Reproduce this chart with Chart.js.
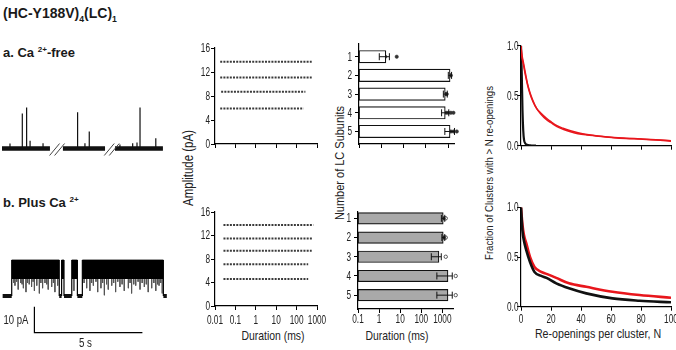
<!DOCTYPE html>
<html><head><meta charset="utf-8">
<script src="https://cdn.jsdelivr.net/npm/chart.js@4.4.0/dist/chart.umd.min.js"></script>
<style>
html,body{margin:0;padding:0;background:#fff;overflow:hidden;width:676px;height:350px;position:relative;}
.t{position:absolute;font-family:'Liberation Sans',Arial,sans-serif;color:#222;white-space:nowrap;line-height:1;}
.b{font-weight:bold;color:#1a1a1a;}
.rot{transform:translate(-50%,-50%) rotate(-90deg) scaleX(0.82);}
.ctr{transform:translate(-50%,-50%) scaleX(0.82);}
sup,sub{font-size:62%;line-height:0;}
</style></head><body>

<div class="t b" style="left:3px;top:6px;font-size:14px;">(HC-Y188V)<sub>4</sub>(LC)<sub>1</sub></div>
<div class="t b" style="left:3px;top:46px;font-size:13px;">a. Ca <sup>2+</sup>-free</div>
<div class="t b" style="left:3px;top:196px;font-size:13px;">b. Plus Ca <sup>2+</sup></div>
<div class="t rot" style="left:188px;top:168px;font-size:14px;">Amplitude (pA)</div>
<div class="t rot" style="left:340px;top:163px;font-size:13.4px;">Number of LC Subunits</div>
<div class="t rot" style="left:489px;top:173px;font-size:11.7px;">Fraction of Clusters with &gt; N re-openings</div>
<div class="t ctr" style="left:273px;top:336px;font-size:12.7px;">Duration (ms)</div>
<div class="t ctr" style="left:397px;top:336px;font-size:12.7px;">Duration (ms)</div>
<div class="t ctr" style="left:598px;top:333px;font-size:13px;">Re-openings per cluster, N</div>

<script>
// ================= DATA =================
// Single-channel traces (time in s, current in pA)
const traceA_segments = [[0, 2.22], [2.82, 4.77], [5.23, 7.45]];
const traceA_spikeTimes = [0.37, 0.94, 1.14, 1.30, 1.90, 3.50, 3.84, 4.04, 5.46, 6.05, 6.25, 6.39, 7.12];
const traceA_spikeAmps  = [1.9, 13.5, 15.8, 3.0, 2.0, 13.9, 2.0, 6.5, 1.5, 2.0, 2.3, 15.8, 3.9];
const traceA_breaks = [2.55, 5.08];

const traceB_start = 0.03, traceB_end = 7.63;
const traceB_openings = [[0.45, 2.65], [2.76, 2.87], [3.23, 3.49], [3.72, 7.47]];
const traceB_openLevel = 13.8;
const traceB_noiseFloor = 6.5;
const traceB_flickerTimes = [0.55, 0.60, 0.68, 0.75, 0.87, 0.93, 0.99, 1.11, 1.18, 1.26, 1.37, 1.44, 1.50, 1.61, 1.73, 1.80, 1.88, 1.99, 2.07, 2.14, 2.30, 2.38, 2.45, 2.58,
  3.33,
  3.80, 3.92, 4.07, 4.15, 4.23, 4.35, 4.43, 4.58, 4.66, 4.74, 4.84, 4.92, 5.08, 5.17, 5.26, 5.36, 5.46, 5.56, 5.66, 5.85, 5.93, 6.00, 6.10, 6.19, 6.30, 6.39, 6.49, 6.59, 6.68, 6.77, 6.93, 7.03, 7.12, 7.20, 7.27, 7.35, 7.42];
const traceB_flickerAmps = [5, 4, 5.5, 2.5, 5, 4.5, 3, 1.5, 5, 4.5, 3.5, 5.5, 2, 4, 1, 5, 3, 5, 4.5, 2.5, 3.5, 5, 1.5, 4,
  2,
  5, 3, 2, 5, 4, 5.5, 1.5, 3, 5, 0.3, 4.5, 2.5, 4, 5, 1.5, 5.5, 3.5, 4.5, 2, 3, 5, 1, 4.5, 4, 5.5, 2.5, 5, 3.5, 4.5, 1.5, 3, 5, 2, 4.5, 4, 5, 1];
const scaleBar_pA = 10, scaleBar_s = 5;

// Amplitude vs duration (pA levels and duration ranges, ms)
const ampA_levels = [16.2, 13.7, 11.1, 8.7, 5.9];
const ampA_durMin = [0.045, 0.018, 0.018, 0.02, 0.018];
const ampA_durMax = [0.17, 550, 550, 270, 220];
const ampB_levels = [13.8, 11.5, 9.4, 7.1, 4.6];
const ampB_durMin = [0.026, 0.026, 0.026, 0.026, 0.026];
const ampB_durMax = [660, 620, 550, 370, 370];
const ampTicks = [0, 4, 8, 12, 16];
const durTicksScatter = [0.01, 0.1, 1, 10, 100, 1000];

// Cluster duration by number of LC subunits (ms)
const lcSubunits = [1, 2, 3, 4, 5];
const durTicksBar = [0.1, 1, 10, 100, 1000];
const durA_mean = [1.6, 1200, 730, 730, 1200];
const durA_errLo = [0.81, 1000, 600, 500, 700];
const durA_errHi = [2.3, 1400, 900, 1050, 1900];
const durA_points = [[0.37, 0.45, 0.52, 0.7, 1.0, 1.5, 4.9], [520, 650, 800, 1000, 1100, 1200, 1300],
  [300, 420, 560, 700, 800, 850], [290, 330, 600, 800, 1000, 1300, 1700], [240, 520, 800, 1000, 1300, 1700, 2400]];
const durB_mean = [1100, 1100, 690, 1850, 1850];
const durB_errLo = [900, 950, 300, 550, 550];
const durB_errHi = [1300, 1300, 890, 2950, 2950];
const durB_points = [[410, 550, 700, 850, 1000, 1150], [580, 750, 900, 1050, 1200], [235, 280], [550], [550]];
const durB_openPoints = [[1300, 1450], [1350, 1450], [1450], [4300], [4300]];

// Survival of re-openings
const reopenA_N = [0, 0.5, 1.5, 3, 4.5, 6, 8, 10.5, 13, 17, 20, 24, 28, 33, 38, 44, 50, 62, 70, 80, 90, 100];
const fracA_red1 = [1.0, 0.92, 0.84, 0.72, 0.61, 0.53, 0.45, 0.37, 0.32, 0.26, 0.23, 0.19, 0.165, 0.14, 0.12, 0.107, 0.098, 0.08, 0.072, 0.066, 0.058, 0.045];
const fracA_red2 = [1.0, 0.90, 0.82, 0.70, 0.60, 0.52, 0.44, 0.37, 0.33, 0.275, 0.24, 0.20, 0.175, 0.15, 0.13, 0.112, 0.10, 0.082, 0.075, 0.068, 0.06, 0.05];
const reopenA_Nblack = [0, 0.5, 1, 1.5, 2, 3, 4, 6, 10];
const fracA_black = [1.0, 0.72, 0.35, 0.15, 0.06, 0.02, 0.01, 0.004, 0];
const reopenB_N = [0, 1, 2, 3.5, 6, 9, 13.5, 17, 23.5, 32, 43.5, 61, 79, 100];
const fracB_red = [1.0, 0.82, 0.72, 0.64, 0.50, 0.40, 0.35, 0.33, 0.29, 0.235, 0.20, 0.15, 0.117, 0.09];
const fracB_black = [1.0, 0.76, 0.66, 0.57, 0.45, 0.35, 0.31, 0.29, 0.235, 0.185, 0.134, 0.084, 0.06, 0.044];
const reopenTicks = [0, 20, 40, 60, 80, 100];
const fracTicks = [0, 0.5, 1.0];

// ================= SETUP =================
const FONT = "'Liberation Sans',Arial,sans-serif";
const LBL_SIZE = 12.5, LBL_SX = 0.66;
Chart.defaults.font.family = FONT;
Chart.defaults.font.size = 11;
Chart.defaults.color = '#222';
Chart.defaults.animation = false;
Chart.defaults.responsive = false;
Chart.defaults.maintainAspectRatio = false;
Chart.defaults.events = [];
Chart.defaults.plugins.legend.display = false;
Chart.defaults.plugins.tooltip.enabled = false;

function condText(ctx, txt, x, y, size, sx, align, base) {
  ctx.save(); ctx.font = size + 'px ' + FONT; ctx.textAlign = align; ctx.textBaseline = base;
  ctx.translate(x, y); ctx.scale(sx, 1); ctx.fillText(txt, 0, 0); ctx.restore();
}
// condensed tick labels drawn from each scale's own ticks
Chart.register({
  id: 'cond',
  afterDraw(chart, args, opts) {
    if (!opts || !opts.on) return;
    const ctx = chart.ctx; ctx.save(); ctx.fillStyle = '#222';
    const xs = chart.scales.x, ys = chart.scales.y;
    if (opts.xoff !== undefined) xs.ticks.forEach(t => {
      const v = t.value;
      condText(ctx, opts.xdig !== undefined ? v.toFixed(opts.xdig) : String(v), xs.getPixelForValue(v), xs.top + opts.xoff, LBL_SIZE, LBL_SX, 'center', 'top');
    });
    if (opts.yoff !== undefined) ys.ticks.forEach(t => {
      const v = t.value;
      condText(ctx, opts.ydig !== undefined ? v.toFixed(opts.ydig) : String(v), ys.right - opts.yoff, ys.getPixelForValue(v) + 0.5, LBL_SIZE, LBL_SX, 'right', 'middle');
    });
    ctx.restore();
  }
});

function mk(left, top, w, h, config) {
  const c = document.createElement('canvas');
  c.width = w; c.height = h;
  c.style.cssText = `position:absolute;left:${left}px;top:${top}px;width:${w}px;height:${h}px`;
  document.body.appendChild(c);
  return new Chart(c, config);
}
function ax(extra) {
  return Object.assign({
    offset: false,
    border: { display: true, color: '#000', width: 1.2 },
    grid: { display: true, offset: false, drawOnChartArea: false, drawTicks: true, tickLength: 4, color: '#000', lineWidth: 1 },
    ticks: { display: false }
  }, extra);
}
const fixTicks = arr => (s => { s.ticks = arr.map(v => ({ value: v })); });
const fitW = w => (s => { s.width = w; });
const fitH = h => (s => { s.height = h; });
const pts = (xs, ys) => xs.map((x, i) => ({ x, y: ys[i] }));

// ================= TRACES =================
const PXS = 21.6, PXPA = 2.6;
function traceScales(w, h, x0px, y0px) {
  return {
    x: { type: 'linear', display: false, min: -x0px / PXS, max: (w - x0px) / PXS },
    y: { type: 'linear', display: false, min: -(h - y0px) / PXPA, max: y0px / PXPA }
  };
}
// Trace a
const baseA = [], spikeA = [];
traceA_segments.forEach(([s, e]) => baseA.push({ x: s, y: 0 }, { x: e, y: 0 }, { x: e, y: null }));
traceA_spikeTimes.forEach((t, i) => spikeA.push({ x: t, y: 0 }, { x: t, y: traceA_spikeAmps[i] }, { x: t, y: null }));
const breakPlugin = {
  id: 'breaks',
  afterDatasetsDraw(chart) {
    const xs = chart.scales.x, ys = chart.scales.y, ctx = chart.ctx;
    const y0 = ys.getPixelForValue(0);
    ctx.save(); ctx.strokeStyle = '#444'; ctx.lineWidth = 1;
    traceA_breaks.forEach(t => {
      const px = xs.getPixelForValue(t);
      [-2.5, 2.5].forEach(o => { ctx.beginPath(); ctx.moveTo(px + o - 5, y0 + 7); ctx.lineTo(px + o + 5, y0 - 5); ctx.stroke(); });
    });
    ctx.restore();
  }
};
mk(0, 95, 172, 65, {
  type: 'line',
  data: { datasets: [
    { data: baseA, borderColor: '#111', borderWidth: 4.5, pointRadius: 0, spanGaps: false },
    { data: spikeA, borderColor: '#111', borderWidth: 1.2, pointRadius: 0, spanGaps: false }
  ] },
  options: { layout: { padding: 0 }, scales: traceScales(172, 65, 2, 53.5) },
  plugins: [breakPlugin]
});

// Trace b
const closedB = [];
let cur = traceB_start;
traceB_openings.forEach(([s, e]) => { closedB.push({ x: cur, y: 0 }, { x: s, y: 0 }, { x: s, y: null }); cur = e; });
closedB.push({ x: cur, y: 0 }, { x: traceB_end, y: 0 });
const transB = [];
traceB_openings.forEach(([s, e]) => transB.push({ x: s, y: 0 }, { x: s, y: traceB_openLevel }, { x: s, y: null }, { x: e, y: 0 }, { x: e, y: traceB_openLevel }, { x: e, y: null }));
const flickB = [];
traceB_flickerTimes.forEach((t, i) => flickB.push({ x: t, y: traceB_noiseFloor }, { x: t, y: traceB_flickerAmps[i] }, { x: t, y: null }));
const openSets = traceB_openings.map(([s, e]) => ({
  data: [{ x: s, y: traceB_openLevel }, { x: e, y: traceB_openLevel }],
  borderColor: '#000', borderWidth: 1, pointRadius: 0, fill: { value: traceB_noiseFloor }, backgroundColor: '#000'
}));
const scaleBarPlugin = {
  id: 'scalebar',
  afterDatasetsDraw(chart) {
    const xs = chart.scales.x, ys = chart.scales.y, ctx = chart.ctx;
    const t0 = 1.5, i0 = -14.1;
    const x0 = xs.getPixelForValue(t0), x1 = xs.getPixelForValue(t0 + scaleBar_s);
    const yb = ys.getPixelForValue(i0), yt = ys.getPixelForValue(i0 + scaleBar_pA);
    ctx.save(); ctx.strokeStyle = '#000'; ctx.lineWidth = 1.2;
    ctx.beginPath(); ctx.moveTo(x0, yt); ctx.lineTo(x0, yb); ctx.lineTo(x1, yb); ctx.stroke();
    ctx.fillStyle = '#222';
    condText(ctx, scaleBar_pA + ' pA', x0 - 6, (yt + yb) / 2 + 1, 12.5, 0.76, 'right', 'middle');
    condText(ctx, scaleBar_s + ' s', (x0 + x1) / 2 - 3, yb + 11, 12.5, 0.78, 'center', 'middle');
    ctx.restore();
  }
};
mk(0, 240, 172, 110, {
  type: 'line',
  data: { datasets: [
    ...openSets,
    { data: flickB, borderColor: '#555', borderWidth: 1, pointRadius: 0, spanGaps: false },
    { data: transB, borderColor: '#000', borderWidth: 1.2, pointRadius: 0, spanGaps: false },
    { data: closedB, borderColor: '#111', borderWidth: 4, pointRadius: 0, spanGaps: false }
  ] },
  options: { layout: { padding: 0 }, scales: traceScales(172, 110, 2, 56) },
  plugins: [scaleBarPlugin]
});

// ================= AMPLITUDE SCATTER =================
function bandSets(levels, dmin, dmax) {
  return levels.map((a, i) => ({
    data: [{ x: dmin[i], y: a }, { x: dmax[i], y: a }],
    showLine: true, borderColor: '#3a3a3a', borderWidth: 2, borderDash: [2, 1.2], pointRadius: 0
  }));
}
function scatterOpts(showX, xh, padTop) {
  return {
    layout: { padding: { top: padTop, right: 13, left: 0, bottom: 0 } },
    plugins: { cond: showX ? { on: true, xoff: 8, yoff: 5 } : { on: true, yoff: 5 } },
    scales: {
      x: ax({ type: 'logarithmic', min: 0.01, max: 1000, afterBuildTicks: fixTicks(durTicksScatter), afterFit: fitH(xh) }),
      y: ax({ type: 'linear', min: 0, max: 16, afterBuildTicks: fixTicks(ampTicks), afterFit: fitW(25) })
    }
  };
}
mk(190, 40, 140, 115, { type: 'scatter', data: { datasets: bandSets(ampA_levels, ampA_durMin, ampA_durMax) }, options: scatterOpts(false, 11, 8) });
mk(190, 205, 140, 145, { type: 'scatter', data: { datasets: bandSets(ampB_levels, ampB_durMin, ampB_durMax) }, options: scatterOpts(true, 44, 7) });

// ================= DURATION BARS =================
const errPlugin = {
  id: 'errbars',
  afterDatasetsDraw(chart, args, opts) {
    const xs = chart.scales.x, ys = chart.scales.y, ctx = chart.ctx;
    ctx.save(); ctx.strokeStyle = '#111'; ctx.lineWidth = 1;
    opts.lo.forEach((lo, i) => {
      const y = ys.getPixelForValue(lcSubunits[i]);
      const a = xs.getPixelForValue(lo), b = xs.getPixelForValue(opts.hi[i]);
      ctx.beginPath(); ctx.moveTo(a, y); ctx.lineTo(b, y);
      ctx.moveTo(a, y - 3.5); ctx.lineTo(a, y + 3.5); ctx.moveTo(b, y - 3.5); ctx.lineTo(b, y + 3.5); ctx.stroke();
    });
    ctx.restore();
  }
};
function barChart(left, top, w, h, mean, lo, hi, points, openPoints, fill, xmax, ymin, ymax, padTop, xh, yw, showX, thick) {
  const flat = [], open = [];
  points.forEach((arr, i) => arr.forEach(v => flat.push({ x: v, y: lcSubunits[i] })));
  openPoints.forEach((arr, i) => arr.forEach(v => open.push({ x: v, y: lcSubunits[i] })));
  return mk(left, top, w, h, {
    type: 'bar',
    data: { datasets: [
      { type: 'bar', data: mean.map((v, i) => ({ y: lcSubunits[i], x: [0.1, v] })), backgroundColor: fill, borderColor: '#111', borderWidth: 1.2, borderSkipped: false, barThickness: thick },
      { type: 'scatter', data: flat, pointRadius: 1.7, pointBackgroundColor: '#333', pointBorderColor: '#333', pointBorderWidth: 0.5 },
      { type: 'scatter', data: open, pointRadius: 1.7, pointBackgroundColor: '#fff', pointBorderColor: '#333', pointBorderWidth: 0.8 }
    ] },
    options: {
      indexAxis: 'y',
      clip: false,
      layout: { padding: { top: padTop, right: w - 95 - yw, left: 0, bottom: 0 } },
      plugins: { errbars: { lo, hi }, cond: showX ? { on: true, xoff: 4.5, yoff: 7 } : { on: true, yoff: 7 } },
      scales: {
        x: ax({ type: 'logarithmic', min: 0.1, max: xmax, afterBuildTicks: fixTicks(durTicksBar), afterFit: fitH(xh) }),
        y: ax({ type: 'linear', reverse: true, min: ymin, max: ymax, afterBuildTicks: fixTicks(lcSubunits), afterFit: fitW(yw) })
      }
    },
    plugins: [errPlugin]
  });
}
barChart(340, 38, 125, 117, durA_mean, durA_errLo, durA_errHi, durA_points, [[], [], [], [], []], '#fff', 1800, 0.32, 5.67, 6, 11, 19, false, 12.5);
barChart(340, 205, 125, 145, durB_mean, durB_errLo, durB_errHi, durB_points, durB_openPoints, '#a9a9a9', 3200, 0.67, 5.72, 7, 41, 18, true, 11.5);

// ================= RE-OPENING SURVIVAL =================
function survOpts(showX, padTop, xh) {
  return {
    layout: { padding: { top: padTop, right: 14, left: 0, bottom: 0 } },
    elements: { line: { cubicInterpolationMode: 'monotone' }, point: { radius: 0 } },
    plugins: { cond: showX ? { on: true, xoff: 7, yoff: 2.5, ydig: 1 } : { on: true, yoff: 2.5, ydig: 1 } },
    scales: {
      x: ax({ type: 'linear', min: 0, max: 100, afterBuildTicks: fixTicks(reopenTicks), afterFit: fitH(xh) }),
      y: ax({ type: 'linear', min: 0, max: 1, afterBuildTicks: fixTicks(fracTicks), afterFit: fitW(26) })
    }
  };
}
mk(495, 38, 190, 117, {
  type: 'line',
  data: { datasets: [
    { data: pts(reopenA_N, fracA_red1), borderColor: '#e8161c', borderWidth: 1.5 },
    { data: pts(reopenA_N, fracA_red2), borderColor: '#e8161c', borderWidth: 1.5 },
    { data: pts(reopenA_Nblack, fracA_black), borderColor: '#111', borderWidth: 2.2 }
  ] },
  options: survOpts(false, 7.7, 9.3)
});
mk(495, 200, 190, 150, {
  type: 'line',
  data: { datasets: [
    { data: pts(reopenB_N, fracB_black), borderColor: '#111', borderWidth: 2.6 },
    { data: pts(reopenB_N, fracB_red), borderColor: '#e8161c', borderWidth: 2.6 }
  ] },
  options: survOpts(true, 7.3, 43.3)
});
</script>
</body></html>
